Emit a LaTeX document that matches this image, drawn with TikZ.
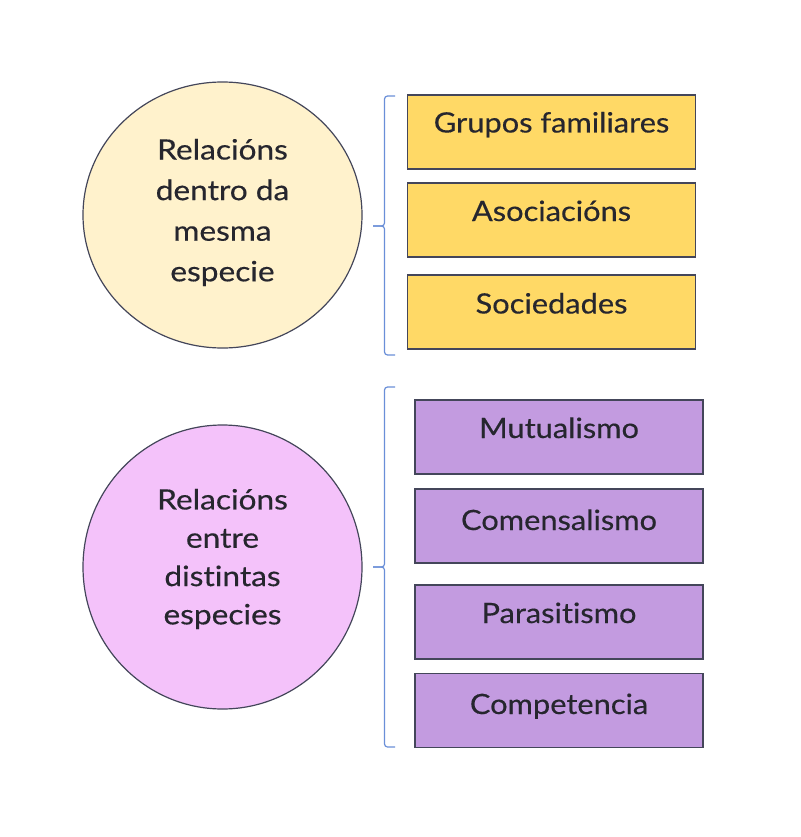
\documentclass[tikz,border=0pt]{standalone}
\usepackage{graphicx}
\usepackage{fontspec}
\setmainfont{Lato}[Ligatures=NoCommon, FakeBold=0.35]
\usetikzlibrary{shapes.geometric}
\definecolor{txt}{HTML}{26262E}
\definecolor{edge}{HTML}{44465A}
\definecolor{ylight}{HTML}{FFF2CC}
\definecolor{ybox}{HTML}{FFD966}
\definecolor{plight}{HTML}{F4C2FA}
\definecolor{pbox}{HTML}{C39BE0}
\definecolor{brace}{HTML}{6A8FD8}
\newcommand{\wc}[1]{\scalebox{1.13}[1]{#1}}
\newcommand{\wb}[1]{\scalebox{1.1}[1]{#1}}
\begin{document}
\begin{tikzpicture}[x=1pt,y=1pt,
  circ/.style={ellipse, draw=edge, line width=1.2pt, inner sep=0pt},
  circtext/.style={text=txt, font=\fontsize{28}{40.6}\selectfont, align=center},
  ybx/.style={draw=edge, line width=1.1pt, fill=ybox, minimum width=288pt, minimum height=74pt, inner sep=0pt},
  pbx/.style={draw=edge, line width=1.1pt, fill=pbox, minimum width=288pt, minimum height=74pt, inner sep=0pt},
  bxtext/.style={text=txt, font=\fontsize{28}{32}\selectfont, inner sep=0pt, anchor=base},
  bracestyle/.style={draw=brace, line width=1.2pt, rounded corners=3pt}]
\useasboundingbox (0,0) rectangle (800,-837);
\fill[white] (0,0) rectangle (800,-837);
% circles
\node[circ, fill=ylight, minimum width=279pt, minimum height=266pt] (c1) at (222.5,-215) {};
\node[circtext] (t1) at (222.5,-212.5) {\wc{Relacións}\\\wc{dentro da}\\\wc{mesma}\\\wc{especie}};
\node[circ, fill=plight, minimum width=279pt, minimum height=284pt] (c2) at (222.5,-567) {};
\node[circtext, font=\fontsize{28}{38.3}\selectfont] (t2) at (222.5,-559) {\wc{Relacións}\\\wc{entre}\\\wc{distintas}\\\wc{especies}};
% yellow boxes
\node[ybx] (b1) at (551.5,-132) {};
\node[bxtext] (l1) at ([yshift=-0.5pt]b1.center) {\wb{Grupos familiares}};
\node[ybx] (b2) at (551.5,-220) {};
\node[bxtext] (l2) at ([yshift=-1pt]b2.center) {\wb{Asociacións}};
\node[ybx] (b3) at (551.5,-312) {};
\node[bxtext] (l3) at ([yshift=-1.5pt]b3.center) {\wb{Sociedades}};
% purple boxes
\node[pbx] (p1) at (559,-437) {};
\node[bxtext] (m1) at ([yshift=-1pt]p1.center) {\wb{Mutualismo}};
\node[pbx] (p2) at (559,-526) {};
\node[bxtext] (m2) at ([yshift=-4pt]p2.center) {\wb{Comensalismo}};
\node[pbx] (p3) at (559,-622) {};
\node[bxtext] (m3) at ([yshift=-1pt]p3.center) {\wb{Parasitismo}};
\node[pbx] (p4) at (559,-710.5) {};
\node[bxtext] (m4) at ([yshift=-3.5pt]p4.center) {\wb{Competencia}};
% braces
\coordinate (k1) at (373,-226);
\coordinate (k2) at (373,-567);
\draw[bracestyle] (395,-96) -- (384.5,-96) -- (384.5,-226) -- (k1);
\draw[bracestyle] (k1) -- (384.5,-226) -- (384.5,-355) -- (395,-355);
\draw[bracestyle] (395,-387) -- (384.5,-387) -- (384.5,-567) -- (k2);
\draw[bracestyle] (k2) -- (384.5,-567) -- (384.5,-747) -- (395,-747);
\end{tikzpicture}
\end{document}
